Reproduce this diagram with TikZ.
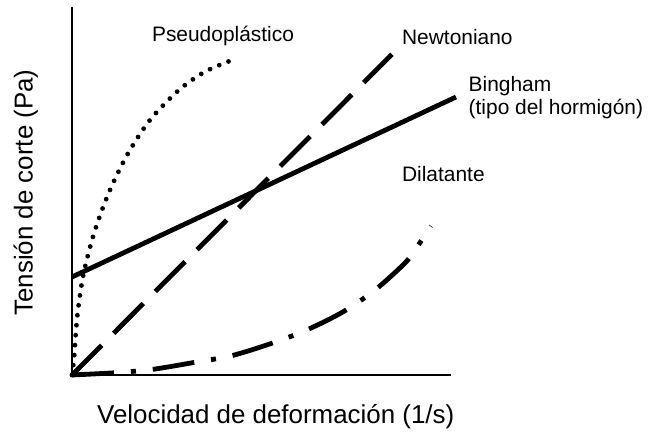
\documentclass[tikz,border=0pt]{standalone}
\usepackage{fontspec}
\setmainfont{Liberation Sans}

\begin{document}
\begin{tikzpicture}[x=0.5bp, y=0.5bp,
    eje/.style={line width=1bp},
    curva/.style={line width=2.4bp},
    etiqueta/.style={font=\fontsize{10.5}{12}\selectfont, inner sep=0pt},
    rotulo/.style={font=\fontsize{13}{15}\selectfont, inner sep=0pt}]
    \useasboundingbox (0,0) rectangle (648,432);
    \coordinate (o)    at (72,57);
    \coordinate (ytop) at (72,425);
    \coordinate (xend) at (451,57);
    % Axes
    \draw[eje] (ytop) -- (o) -- (xend);
    \node[rotulo, anchor=base] (xlab) at (275.7,8) {Velocidad de deformación (1/s)};
    \node[rotulo, anchor=base, rotate=90] (ylab) at (32.5,239.5) {Tensión de corte (Pa)};
    % Curves
    \coordinate (newt) at (392,377.7);
    \coordinate (bing0) at (72,155);
    \coordinate (bing1) at (456,335);
    \draw[curva, dash pattern=on 21bp off 8.5bp] (o) -- (newt);
    \draw[curva] (bing0) -- (bing1);
    \draw[line width=2.4bp, line cap=round, dash pattern=on 0pt off 5bp]
        plot[smooth] coordinates {(72,57) (74,73.7) (77.3,116) (83.3,157)
        (94,198.7) (108.3,238) (126.7,276.3) (150,312) (179,342) (205,360.3)
        (232.3,372)};
    \draw[curva, dash pattern=on 21bp off 8.5bp on 2.5bp off 8.5bp]
        plot[smooth] coordinates {(72,57) (116,59.3) (153,62.7) (195,69.7)
        (231.7,76.3) (271.7,88.7) (306.7,102) (343.3,120.3) (375,142)
        (405,169) (417,185) (431,206)};
    % Labels
    \node[etiqueta, anchor=base] (pseudo) at (223,390.3) {Pseudoplástico};
    \node[etiqueta, anchor=base west] (newton) at (401.7,387.7) {Newtoniano};
    \node[etiqueta, anchor=base west, align=left] (bingham) at (468.3,317) {Bingham\\(tipo del hormigón)};
    \node[etiqueta, anchor=base west] (dila) at (401.7,250.3) {Dilatante};
\end{tikzpicture}
\end{document}
